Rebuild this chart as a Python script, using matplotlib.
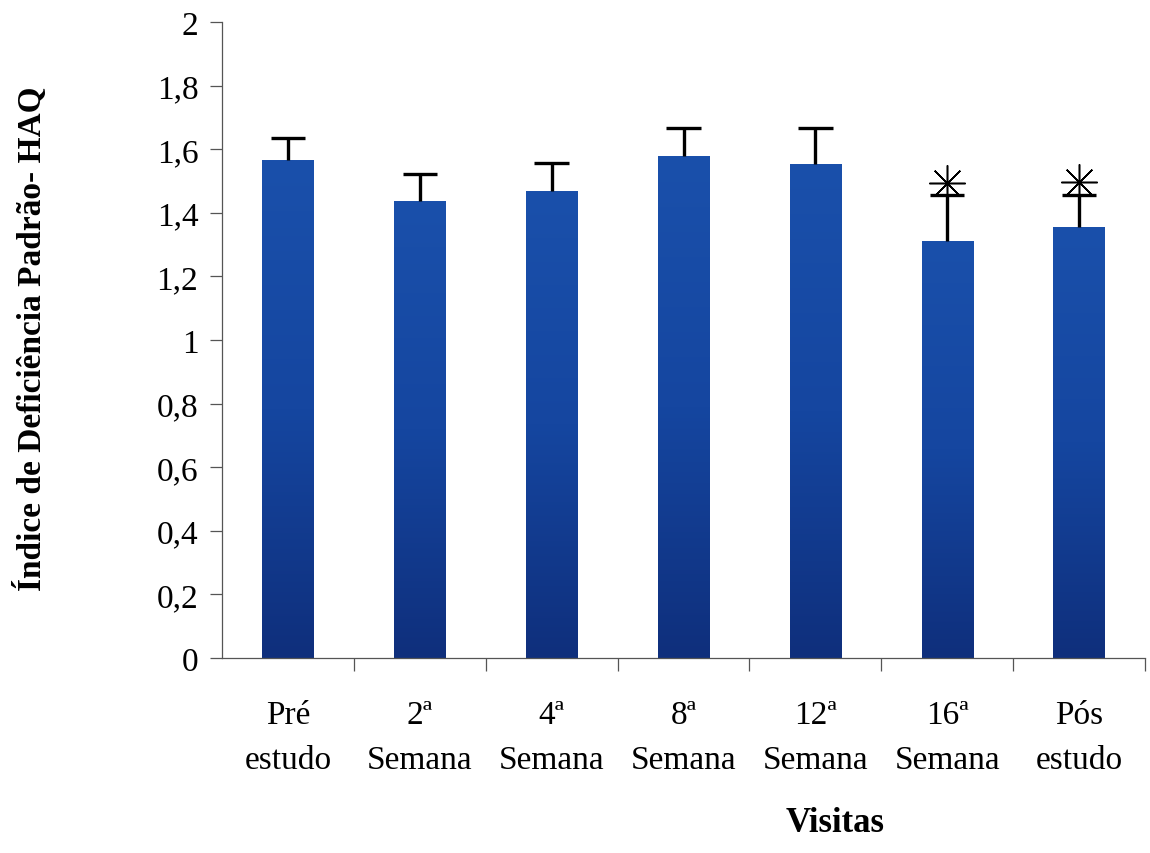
import numpy as np
import matplotlib

matplotlib.use("Agg")
import matplotlib.pyplot as plt
from matplotlib.colors import LinearSegmentedColormap

plt.rcParams["font.family"] = ["Liberation Serif", "DejaVu Serif"]

visitas = ["Pré\nestudo", "2ª\nSemana", "4ª\nSemana", "8ª\nSemana",
           "12ª\nSemana", "16ª\nSemana", "Pós\nestudo"]
media = [1.565, 1.436, 1.468, 1.578, 1.553, 1.310, 1.357]
erro = [0.07, 0.085, 0.09, 0.09, 0.115, 0.145, 0.10]
signif = [False, False, False, False, False, True, True]

fig = plt.figure(figsize=(11.5, 8.54), dpi=100)
ax = fig.add_axes([0.193, 0.2283, 0.8027, 0.7447])

x = np.arange(len(visitas))
largura = 0.39
bars = ax.bar(x, media, width=largura, color="#123f8c", zorder=2)

# only the upper half of each error bar, with a cap
topo = np.array(media) + np.array(erro)
ax.vlines(x, media, topo, color="black", linewidth=2.4, zorder=3)
ax.hlines(topo, x - 0.13, x + 0.13, color="black", linewidth=2.4, zorder=3)

# vertical blue gradient inside each bar
cmap = LinearSegmentedColormap.from_list("azul", ["#0f2f7c", "#1546a0", "#1a50ab"])
grad = np.linspace(0, 1, 256).reshape(-1, 1)
for b in bars:
    x0, w, h = b.get_x(), b.get_width(), b.get_height()
    im = ax.imshow(grad, cmap=cmap, origin="lower", aspect="auto",
                   extent=[x0, x0 + w, 0, h], zorder=2)
    im.set_clip_path(b)

for xi, t, s in zip(x, topo, signif):
    if s:
        ax.plot(xi, t + 0.04, marker=(8, 2, 0), markersize=26,
                markeredgewidth=1.1, color="black", zorder=4)

ax.set_xlim(-0.5, len(visitas) - 0.5)
ax.set_ylim(0, 2)
yt = np.round(np.arange(0, 2.01, 0.2), 1)
ax.set_yticks(yt)
ax.set_yticklabels([f"{v:g}".replace(".", ",") for v in yt])
ax.set_xticks(x)
ax.set_xticklabels(visitas, linespacing=1.6)
ax.set_xticks(np.arange(0.5, len(visitas) - 0.4, 1), minor=True)
ax.tick_params(axis="x", which="major", length=0, labelsize=24, pad=30)
ax.tick_params(axis="x", which="minor", length=9, width=0.9, color="#555555")
ax.tick_params(axis="y", length=9, width=0.9, labelsize=24, pad=8,
               color="#555555")

for side in ("top", "right"):
    ax.spines[side].set_visible(False)
for side in ("left", "bottom"):
    ax.spines[side].set_color("#555555")
    ax.spines[side].set_linewidth(0.9)

ax.set_ylabel("Índice de Deficiência Padrão- HAQ", fontsize=24,
              fontweight="bold")
ax.yaxis.set_label_coords(-0.188, 0.503)
ax.set_xlabel("Visitas", fontsize=25, fontweight="bold")
ax.xaxis.set_label_coords(0.664, -0.232)

fig.savefig("out.png", dpi=100)
